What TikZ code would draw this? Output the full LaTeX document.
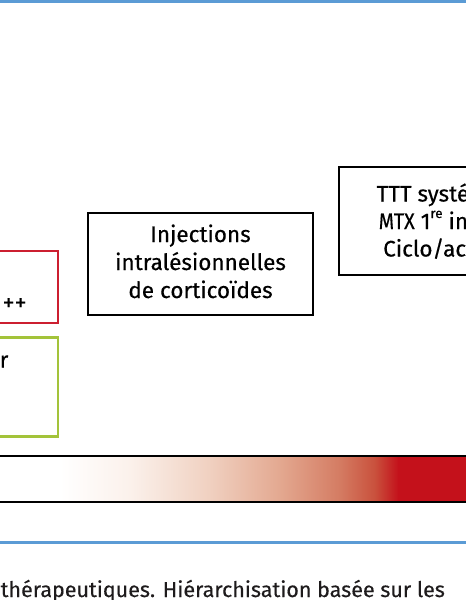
\documentclass[tikz,border=0pt]{standalone}
\usepackage{fontspec}
\setmainfont{Fira Sans}[FakeBold=0.35]
\usepackage{graphicx}
\definecolor{rulecol}{HTML}{5B9BD5}
\definecolor{redbox}{HTML}{CC1F30}
\definecolor{greenbox}{HTML}{A3C33A}
\definecolor{captxt}{HTML}{1E1B1C}
\definecolor{g1}{HTML}{FBF1EB}
\definecolor{g2}{HTML}{F0D0C0}
\definecolor{g3}{HTML}{E3A890}
\definecolor{g4}{HTML}{D47B62}
\definecolor{g5}{HTML}{C9503C}
\definecolor{g6}{HTML}{C4111B}
\begin{document}
\begin{tikzpicture}[x=1pt,y=-1pt,
  boxtext/.style={font=\fontsize{22.5}{28}\selectfont, inner sep=0pt, anchor=base},
  blackbox/.style={draw=black, line width=2pt, inner sep=0pt},
  rulestyle/.style={draw=rulecol, line width=3pt}]
\useasboundingbox (0,0) rectangle (466,600);
\clip (0,0) rectangle (466,600);
\fill[white] (0,0) rectangle (466,600);
% blue rules
\coordinate (r1a) at (0,1.5); \coordinate (r1b) at (466,1.5);
\draw[rulestyle] (r1a) -- (r1b);
\coordinate (r2a) at (0,542.5); \coordinate (r2b) at (466,542.5);
\draw[rulestyle] (r2a) -- (r2b);
% left boxes (clipped)
\node[draw=redbox, line width=2pt, minimum width=200pt, minimum height=72pt, inner sep=0pt] (redb) at (-42,287) {};
\node[boxtext, anchor=base west] (redt) at (2.5,310.5) {\fontsize{24}{28}\selectfont ++};
\node[draw=greenbox, line width=2.5pt, minimum width=200pt, minimum height=99pt, inner sep=0pt] (greenb) at (-42,387) {};
\node[boxtext, anchor=base west] (greent) at (-0.5,367.5) {r};
% injections box
\node[blackbox, minimum width=225pt, minimum height=102pt] (inj) at (200.5,264) {};
\node[boxtext] (inj1) at (200.5,242) {Injections};
\node[boxtext] (inj2) at (200.5,270) {intralésionnelles};
\node[boxtext] (inj3) at (200.5,298) {de corticoïdes};
% TTT box
\node[blackbox, minimum width=260pt, minimum height=108pt] (ttt) at (469,221) {};
\node[boxtext, anchor=base west] (ttt1) at (376.5,201.5) {TTT systé};
\node[boxtext, anchor=base west] (ttt2) at (378.5,229) {\scalebox{0.88}[1]{MTX} 1\raisebox{11pt}{\fontsize{13.5}{13.5}\selectfont re} in};
\node[boxtext, anchor=base west] (ttt3) at (383,256.5) {Ciclo/ac};
% gradient bar
\fill[white] (0,456) rectangle (60,502);
\shade[left color=white, right color=g1] (59.5,456) rectangle (130.5,502);
\shade[left color=g1, right color=g2] (130,456) rectangle (210.5,502);
\shade[left color=g2, right color=g3] (210,456) rectangle (280.5,502);
\shade[left color=g3, right color=g4] (280,456) rectangle (340.5,502);
\shade[left color=g4, right color=g5] (340,456) rectangle (375.5,502);
\shade[left color=g5, right color=g6] (375,456) rectangle (398.5,502);
\fill[g6] (398,456) rectangle (466,502);
\coordinate (bt1) at (0,456); \coordinate (bt2) at (466,456);
\coordinate (bb1) at (0,502); \coordinate (bb2) at (466,502);
\draw[line width=1.5pt] (bt1) -- (bt2);
\draw[line width=1.5pt] (bb1) -- (bb2);
% caption
\node[font=\fontsize{21.5}{26}\selectfont, text=captxt, inner sep=0pt, anchor=base west] (cap) at (0.5,597) {thérapeutiques. Hiérarchisation basée sur les};
\end{tikzpicture}
\end{document}
